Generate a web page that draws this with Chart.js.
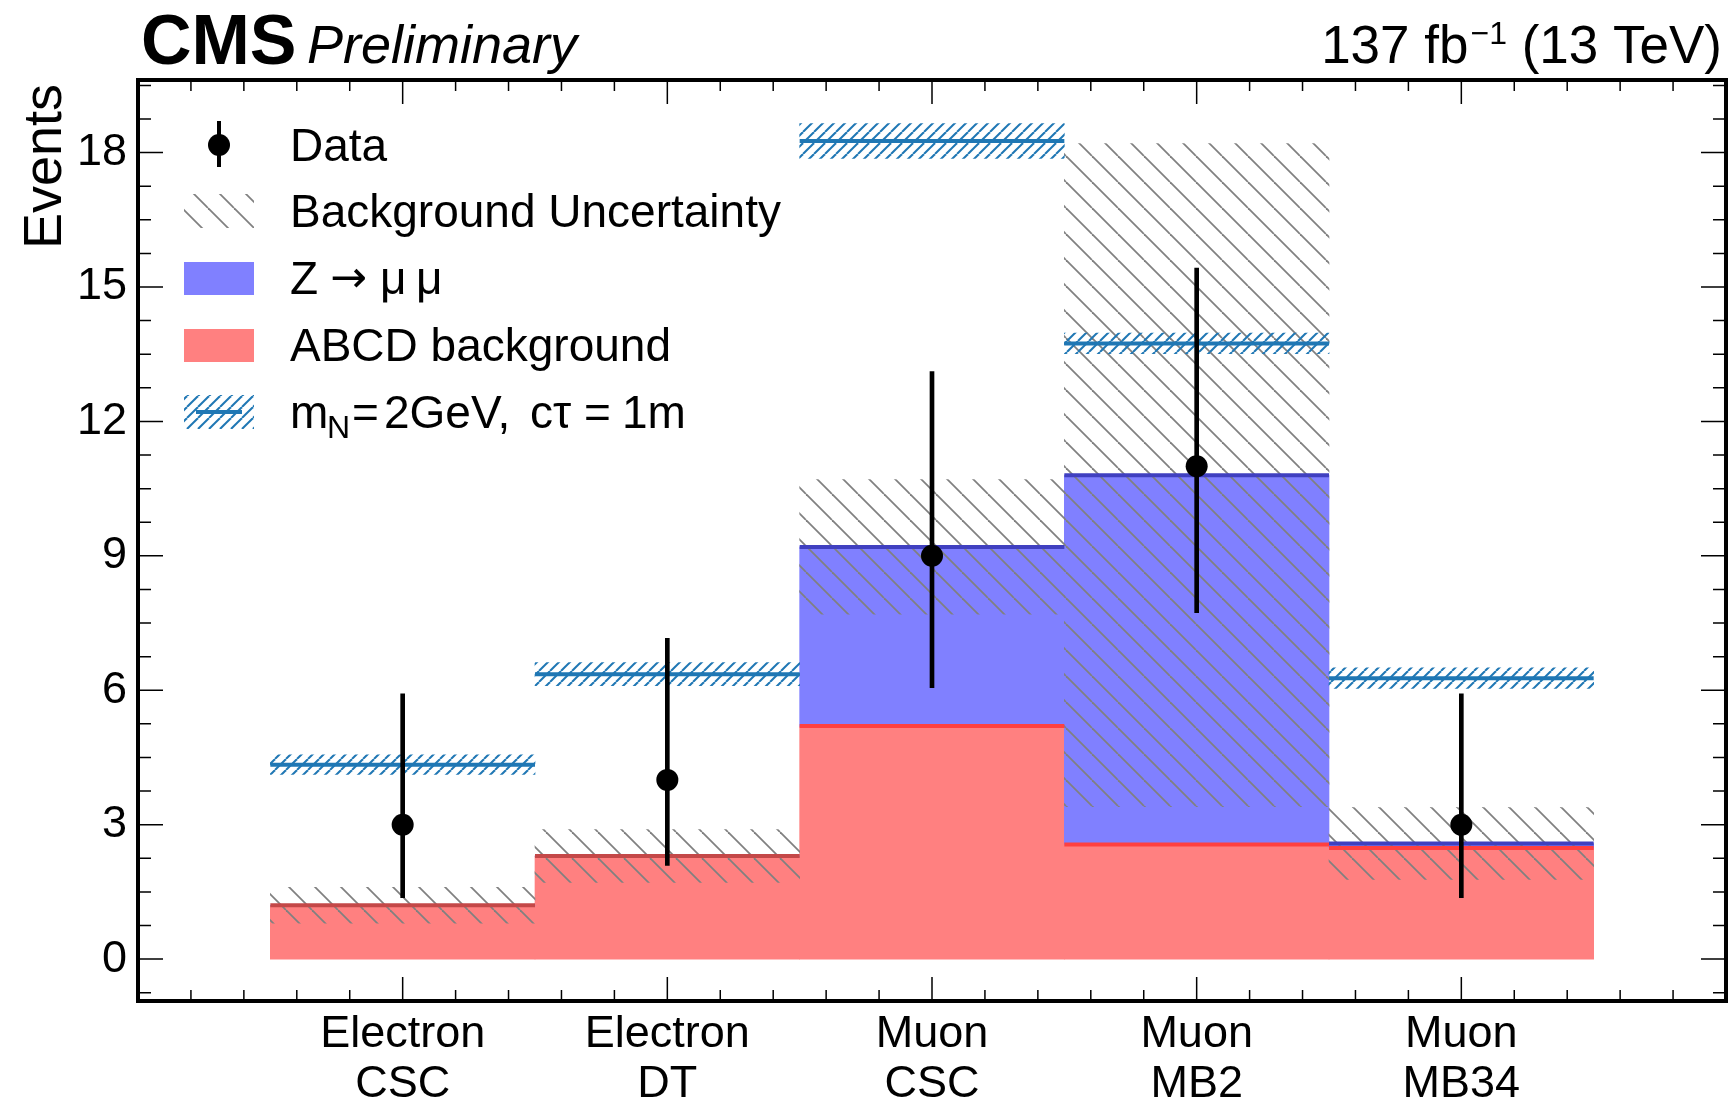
<!DOCTYPE html>
<html>
<head>
<meta charset="utf-8">
<script src="https://cdn.jsdelivr.net/npm/chart.js@4.4.1/dist/chart.umd.min.js"></script>
<style>
  html, body { margin: 0; padding: 0; background: #fff; }
  canvas { display: block; }
</style>
</head>
<body>
<canvas id="chart01" width="1731" height="1101"></canvas>
<script>
// ビン（カテゴリ）
var categories = [['Electron', 'CSC'], ['Electron', 'DT'], ['Muon', 'CSC'], ['Muon', 'MB2'], ['Muon', 'MB34']];
// 背景（積み上げ）
var abcdBkg = [1.20, 2.30, 5.20, 2.56, 2.48];
var zmumuBkg = [0, 0, 4.00, 8.24, 0.10];
var bkgUnc = [0.40, 0.59, 1.50, 7.40, 0.80];
// 信号 m_N = 2 GeV, ctau = 1 m
var signal = [4.34, 6.36, 18.26, 13.74, 6.27];
var signalUnc = [0.22, 0.26, 0.39, 0.23, 0.23];
// データ（ポアソン誤差）
var dataCounts = [3, 4, 9, 11, 3];
var dataLow = [1.37, 2.09, 6.06, 7.73, 1.37];
var dataHigh = [5.92, 7.16, 13.11, 15.42, 5.92];
// 軸目盛り
var yTicks = [0, 3, 6, 9, 12, 15, 18];

var FONT = "'Liberation Sans', Arial, Helvetica, sans-serif";
var TAB_BLUE = '#1f77b4';

// ハッチングのパターン
function hatch(color, step, lw, dir) {
  var c = document.createElement('canvas');
  c.width = step; c.height = step;
  var g = c.getContext('2d');
  g.strokeStyle = color; g.lineWidth = lw;
  for (var k = -1; k <= 1; k++) {
    g.beginPath();
    if (dir === '\\') { g.moveTo(k * step, 0); g.lineTo(k * step + step, step); }
    else { g.moveTo(k * step, step); g.lineTo(k * step + step, 0); }
    g.stroke();
  }
  return g.createPattern(c, 'repeat');
}
var grayHatch = hatch('#808080', 26, 1.8, '\\');
var blueHatch = hatch(TAB_BLUE, 11, 2, '/');

// ビンごとの水平線（ビン間は切る）
function steps(vals, keep) {
  var pts = [];
  vals.forEach(function (v, i) {
    var y = (keep && !keep(i)) ? null : v;
    pts.push({x: i - 0.5, y: y}, {x: i + 0.5, y: y}, {x: i + 0.5, y: null});
  });
  return pts;
}

var stackTop = abcdBkg.map(function (v, i) { return v + zmumuBkg[i]; });

var decor = {
  id: 'cmsDecor',
  afterDraw: function (chart) {
    var ctx = chart.ctx, a = chart.chartArea, xs = chart.scales.x, ys = chart.scales.y;
    ctx.save();
    // 目盛り（内向き）
    ctx.strokeStyle = '#000'; ctx.lineWidth = 1.5;
    ctx.beginPath();
    for (var k = -1; k * 0.75 < ys.max; k++) {
      var py = ys.getPixelForValue(k * 0.75);
      var len = (k % 4 === 0) ? 25 : 13;
      ctx.moveTo(a.left, py); ctx.lineTo(a.left + len, py);
      ctx.moveTo(a.right, py); ctx.lineTo(a.right - len, py);
    }
    for (var j = -4; j <= 24; j++) {
      var px = xs.getPixelForValue(j * 0.2);
      var lx = (j % 5 === 0) ? 24 : 11;
      ctx.moveTo(px, a.bottom); ctx.lineTo(px, a.bottom - lx);
      ctx.moveTo(px, a.top); ctx.lineTo(px, a.top + lx);
    }
    ctx.stroke();
    // 枠
    ctx.lineWidth = 4;
    ctx.strokeRect(a.left, a.top, a.right - a.left, a.bottom - a.top);

    // ヘッダー
    ctx.fillStyle = '#000';
    ctx.textBaseline = 'alphabetic';
    ctx.textAlign = 'left';
    ctx.font = 'bold 70px ' + FONT;
    ctx.fillText('CMS', 141, 64);
    ctx.font = 'italic 54px ' + FONT;
    ctx.fillText('Preliminary', 307, 63);

    ctx.font = '53px ' + FONT;
    var w1 = ctx.measureText('137 fb').width;
    var w3 = ctx.measureText(' (13 TeV)').width;
    ctx.font = '32px ' + FONT;
    var w2 = ctx.measureText('\u22121').width + 2;
    var x0 = 1722 - w1 - w2 - w3;
    ctx.font = '53px ' + FONT;
    ctx.fillText('137 fb', x0, 63);
    ctx.fillText(' (13 TeV)', x0 + w1 + w2, 63);
    ctx.font = '32px ' + FONT;
    ctx.fillText('\u22121', x0 + w1 + 2, 44);

    // y軸タイトル
    ctx.save();
    ctx.translate(61, 84);
    ctx.rotate(-Math.PI / 2);
    ctx.textAlign = 'right';
    ctx.font = '54px ' + FONT;
    ctx.fillText('Events', 0, 0);
    ctx.restore();

    // 凡例
    var rows = [145, 211, 278, 345, 412];
    ctx.font = '46px ' + FONT;
    ctx.textAlign = 'left';
    // Data
    ctx.strokeStyle = '#000'; ctx.lineWidth = 4;
    ctx.beginPath(); ctx.moveTo(219, rows[0] - 24); ctx.lineTo(219, rows[0] + 22); ctx.stroke();
    ctx.beginPath(); ctx.arc(219, rows[0], 11, 0, Math.PI * 2); ctx.fill();
    ctx.fillText('Data', 290, rows[0] + 16);
    // Background Uncertainty
    ctx.fillStyle = grayHatch;
    ctx.fillRect(184, rows[1] - 17, 70, 34);
    ctx.fillStyle = '#000';
    ctx.fillText('Background Uncertainty', 290, rows[1] + 16);
    // Z -> mu mu
    ctx.fillStyle = '#8080ff';
    ctx.fillRect(184, rows[2] - 16, 70, 33);
    ctx.fillStyle = '#000';
    ctx.fillText('Z', 290, rows[2] + 16);
    ctx.font = "44px 'DejaVu Sans', sans-serif";
    ctx.fillText('\u2192', 330, rows[2] + 14);
    ctx.font = '46px ' + FONT;
    ctx.fillText('\u03bc', 380, rows[2] + 16);
    ctx.fillText('\u03bc', 416, rows[2] + 16);
    // ABCD
    ctx.fillStyle = '#ff8080';
    ctx.fillRect(184, rows[3] - 16, 70, 33);
    ctx.fillStyle = '#000';
    ctx.fillText('ABCD background', 290, rows[3] + 16);
    // signal
    ctx.fillStyle = blueHatch;
    ctx.fillRect(184, rows[4] - 17, 70, 34);
    ctx.strokeStyle = TAB_BLUE; ctx.lineWidth = 4;
    ctx.beginPath(); ctx.moveTo(196, rows[4]); ctx.lineTo(242, rows[4]); ctx.stroke();
    ctx.fillStyle = '#000';
    var by = rows[4] + 16;
    ctx.fillText('m', 290, by);
    ctx.font = '32px ' + FONT;
    ctx.fillText('N', 327, by + 10);
    ctx.font = '46px ' + FONT;
    ctx.fillText('=', 352, by);
    ctx.fillText('2GeV,', 384, by);
    ctx.fillText('c\u03c4', 530, by);
    ctx.fillText('=', 584, by);
    ctx.fillText('1m', 622, by);
    ctx.restore();
  }
};

var ctx = document.getElementById('chart01');
var chart = new Chart(ctx, {
  type: 'bar',
  data: {
    datasets: [
      { // ABCD
        type: 'bar', order: 10,
        data: abcdBkg.map(function (v, i) { return {x: i, y: v}; }),
        backgroundColor: '#ff8080', borderWidth: 0
      },
      { // Z -> mumu（積み上げ）
        type: 'bar', order: 9,
        data: zmumuBkg.map(function (v, i) { return {x: i, y: [abcdBkg[i], stackTop[i]]}; }),
        backgroundColor: '#8080ff', borderWidth: 0
      },
      { // 背景の不確かさ
        type: 'bar', order: 8,
        data: bkgUnc.map(function (u, i) { return {x: i, y: [stackTop[i] - u, stackTop[i] + u]}; }),
        backgroundColor: grayHatch, borderWidth: 0
      },
      { // ABCD の上端
        type: 'line', order: 7,
        data: steps(abcdBkg),
        borderWidth: 4, pointRadius: 0, fill: false,
        borderColor: '#ff4040',
        segment: {
          borderColor: function (c) {
            return zmumuBkg[Math.floor(c.p0DataIndex / 3)] > 0 ? '#ff4040' : '#c44848';
          }
        }
      },
      { // 積み上げの上端
        type: 'line', order: 6,
        data: steps(stackTop, function (i) { return zmumuBkg[i] > 0; }),
        borderWidth: 4, pointRadius: 0, fill: false, borderColor: '#4040c0'
      },
      { // 信号の不確かさ
        type: 'bar', order: 5,
        data: signal.map(function (s, i) { return {x: i, y: [s - signalUnc[i], s + signalUnc[i]]}; }),
        backgroundColor: blueHatch, borderWidth: 0
      },
      { // 信号
        type: 'line', order: 4,
        data: steps(signal),
        borderWidth: 4, pointRadius: 0, fill: false, borderColor: TAB_BLUE
      },
      { // データの誤差棒
        type: 'bar', order: 2,
        data: dataCounts.map(function (n, i) { return {x: i, y: [dataLow[i], dataHigh[i]]}; }),
        backgroundColor: '#000', borderWidth: 0, barThickness: 4
      },
      { // データ
        type: 'line', order: 1, showLine: false,
        data: dataCounts.map(function (n, i) { return {x: i, y: n}; }),
        pointRadius: 11, pointBackgroundColor: '#000', pointBorderWidth: 0, borderColor: '#000'
      }
    ]
  },
  options: {
    responsive: false,
    animation: false,
    events: [],
    devicePixelRatio: 1,
    layout: { autoPadding: false, padding: { left: 0, right: 5, top: 80, bottom: 0 } },
    datasets: { bar: { grouped: false, categoryPercentage: 1, barPercentage: 1 } },
    plugins: { legend: { display: false }, tooltip: { enabled: false } },
    scales: {
      x: {
        type: 'linear', min: -1, max: 5, offset: false,
        grid: { display: false, drawTicks: false, offset: false },
        border: { display: false },
        afterBuildTicks: function (s) { s.ticks = categories.map(function (c, i) { return {value: i}; }); },
        afterFit: function (s) { s.height = 100; s.paddingLeft = 0; s.paddingRight = 0; },
        ticks: {
          autoSkip: false, maxRotation: 0, minRotation: 0, padding: 9,
          color: '#000', font: { family: FONT, size: 45, lineHeight: 1.1 },
          callback: function (v) { return categories[v]; }
        }
      },
      y: {
        type: 'linear', min: -0.935, max: 19.62,
        grid: { display: false, drawTicks: false },
        border: { display: false },
        afterBuildTicks: function (s) { s.ticks = yTicks.map(function (v) { return {value: v}; }); },
        afterFit: function (s) { s.width = 138; },
        ticks: {
          padding: 11, color: '#000', font: { family: FONT, size: 45 },
          callback: function (v) { return String(v); }
        }
      }
    }
  },
  plugins: [decor]
});
</script>
</body>
</html>
